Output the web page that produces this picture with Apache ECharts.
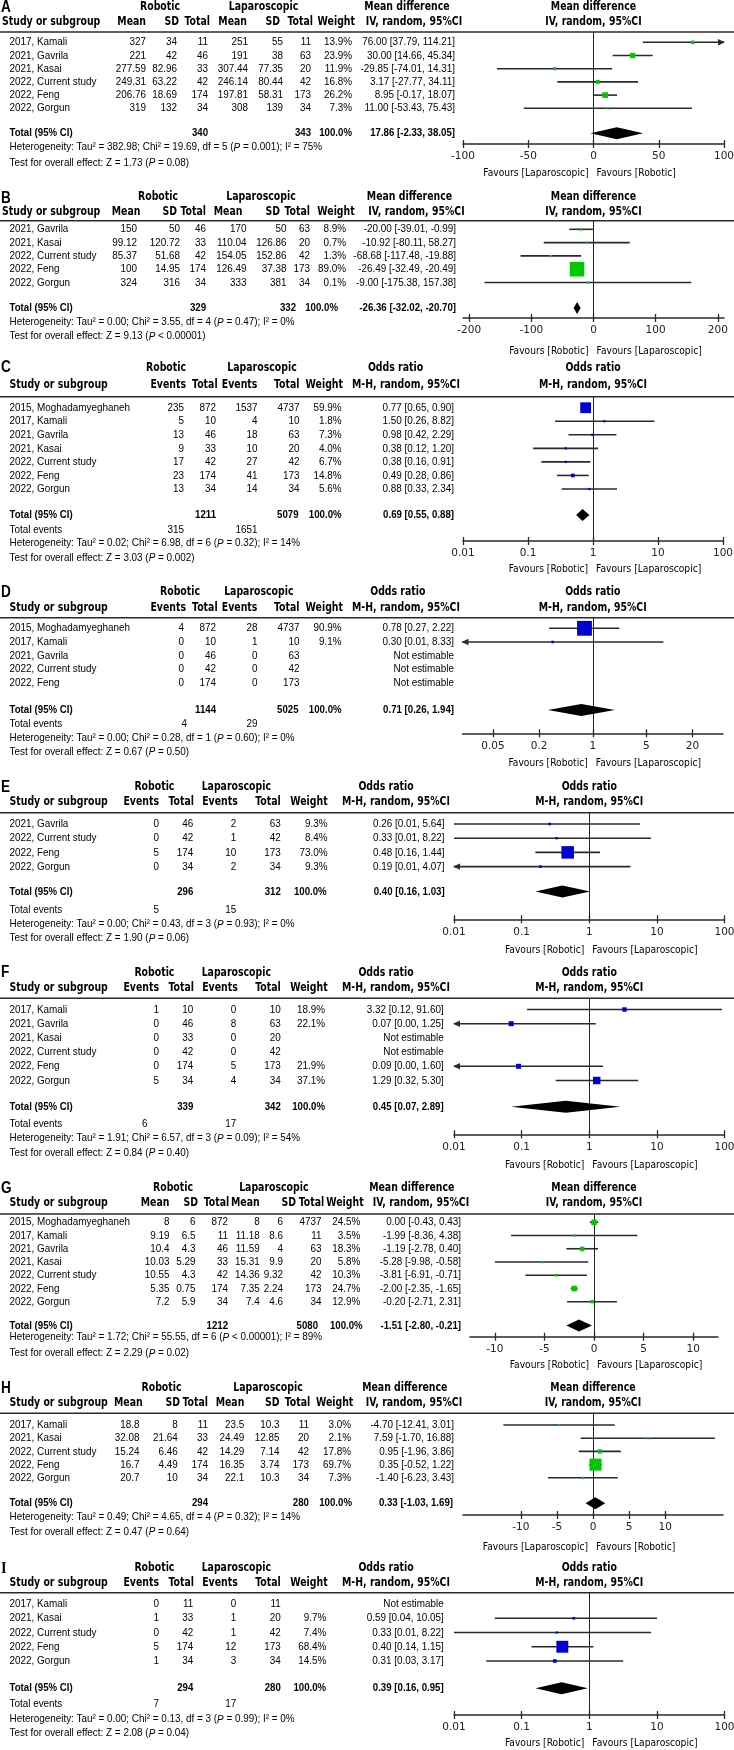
<!DOCTYPE html>
<html><head><meta charset="utf-8">
<script src="https://cdn.jsdelivr.net/npm/echarts@6/dist/echarts.min.js"></script>
<style>html,body{margin:0;padding:0;background:#fff}#c{width:734px;height:1750px}</style>
</head><body><div id="c"></div>
<script>
// ===================== DATA =====================
// Mean-difference rows: [study, robMean, robSD, robN, lapMean, lapSD, lapN, weight%, MD, lo, hi]
const A_rows = [
  ['2017, Kamali', 327, 34, 11, 251, 55, 11, 13.9, 76.00, 37.79, 114.21],
  ['2021, Gavrila', 221, 42, 46, 191, 38, 63, 23.9, 30.00, 14.66, 45.34],
  ['2021, Kasai', 277.59, 82.96, 33, 307.44, 77.35, 20, 11.9, -29.85, -74.01, 14.31],
  ['2022, Current study', 249.31, 63.22, 42, 246.14, 80.44, 42, 16.8, 3.17, -27.77, 34.11],
  ['2022, Feng', 206.76, 18.69, 174, 197.81, 58.31, 173, 26.2, 8.95, -0.17, 18.07],
  ['2022, Gorgun', 319, 132, 34, 308, 139, 34, 7.3, 11.00, -53.43, 75.43]
];
const A_total = [340, 343, 17.86, -2.33, 38.05];
const A_het = 'Tau² = 382.98; Chi² = 19.69, df = 5 (P = 0.001); I² = 75%';
const A_test = 'Z = 1.73 (P = 0.08)';
const A_fav = ['Favours [Laparoscopic]', 'Favours [Robotic]'];
const A_ticks = [-100, -50, 0, 50, 100];
const A_range = [-100, 100];

const B_rows = [
  ['2021, Gavrila', 150, 50, 46, 170, 50, 63, 8.9, -20.00, -39.01, -0.99],
  ['2021, Kasai', 99.12, 120.72, 33, 110.04, 126.86, 20, 0.7, -10.92, -80.11, 58.27],
  ['2022, Current study', 85.37, 51.68, 42, 154.05, 152.86, 42, 1.3, -68.68, -117.48, -19.88],
  ['2022, Feng', 100, 14.95, 174, 126.49, 37.38, 173, 89.0, -26.49, -32.49, -20.49],
  ['2022, Gorgun', 324, 316, 34, 333, 381, 34, 0.1, -9.00, -175.38, 157.38]
];
const B_total = [329, 332, -26.36, -32.02, -20.70];
const B_het = 'Tau² = 0.00; Chi² = 3.55, df = 4 (P = 0.47); I² = 0%';
const B_test = 'Z = 9.13 (P < 0.00001)';
const B_fav = ['Favours [Robotic]', 'Favours [Laparoscopic]'];
const B_ticks = [-200, -100, 0, 100, 200];
const B_range = [-210, 210];

// Odds-ratio rows: [study, robEvents, robN, lapEvents, lapN, weight%, OR, lo, hi]
const C_rows = [
  ['2015, Moghadamyeghaneh', 235, 872, 1537, 4737, 59.9, 0.77, 0.65, 0.90],
  ['2017, Kamali', 5, 10, 4, 10, 1.8, 1.50, 0.26, 8.82],
  ['2021, Gavrila', 13, 46, 18, 63, 7.3, 0.98, 0.42, 2.29],
  ['2021, Kasai', 9, 33, 10, 20, 4.0, 0.38, 0.12, 1.20],
  ['2022, Current study', 17, 42, 27, 42, 6.7, 0.38, 0.16, 0.91],
  ['2022, Feng', 23, 174, 41, 173, 14.8, 0.49, 0.28, 0.86],
  ['2022, Gorgun', 13, 34, 14, 34, 5.6, 0.88, 0.33, 2.34]
];
const C_total = [1211, 5079, 0.69, 0.55, 0.88];
const C_events = [315, 1651];
const C_het = 'Tau² = 0.02; Chi² = 6.98, df = 6 (P = 0.32); I² = 14%';
const C_test = 'Z = 3.03 (P = 0.002)';
const C_fav = ['Favours [Robotic]', 'Favours [Laparoscopic]'];
const C_ticks = [0.01, 0.1, 1, 10, 100];
const C_range = [0.01, 100];

const D_rows = [
  ['2015, Moghadamyeghaneh', 4, 872, 28, 4737, 90.9, 0.78, 0.27, 2.22],
  ['2017, Kamali', 0, 10, 1, 10, 9.1, 0.30, 0.01, 8.33],
  ['2021, Gavrila', 0, 46, 0, 63, null, null, null, null],
  ['2022, Current study', 0, 42, 0, 42, null, null, null, null],
  ['2022, Feng', 0, 174, 0, 173, null, null, null, null]
];
const D_total = [1144, 5025, 0.71, 0.26, 1.94];
const D_events = [4, 29];
const D_het = 'Tau² = 0.00; Chi² = 0.28, df = 1 (P = 0.60); I² = 0%';
const D_test = 'Z = 0.67 (P = 0.50)';
const D_fav = ['Favours [Robotic]', 'Favours [Laparoscopic]'];
const D_ticks = [0.05, 0.2, 1, 5, 20];
const D_range = [0.02, 50];

const E_rows = [
  ['2021, Gavrila', 0, 46, 2, 63, 9.3, 0.26, 0.01, 5.64],
  ['2022, Current study', 0, 42, 1, 42, 8.4, 0.33, 0.01, 8.22],
  ['2022, Feng', 5, 174, 10, 173, 73.0, 0.48, 0.16, 1.44],
  ['2022, Gorgun', 0, 34, 2, 34, 9.3, 0.19, 0.01, 4.07]
];
const E_clippedLow = ['2022, Gorgun'];
const E_total = [296, 312, 0.40, 0.16, 1.03];
const E_events = [5, 15];
const E_het = 'Tau² = 0.00; Chi² = 0.43, df = 3 (P = 0.93); I² = 0%';
const E_test = 'Z = 1.90 (P = 0.06)';
const E_fav = ['Favours [Robotic]', 'Favours [Laparoscopic]'];
const E_ticks = [0.01, 0.1, 1, 10, 100];
const E_range = [0.01, 100];

const F_rows = [
  ['2017, Kamali', 1, 10, 0, 10, 18.9, 3.32, 0.12, 91.60],
  ['2021, Gavrila', 0, 46, 8, 63, 22.1, 0.07, 0.00, 1.25],
  ['2021, Kasai', 0, 33, 0, 20, null, null, null, null],
  ['2022, Current study', 0, 42, 0, 42, null, null, null, null],
  ['2022, Feng', 0, 174, 5, 173, 21.9, 0.09, 0.00, 1.60],
  ['2022, Gorgun', 5, 34, 4, 34, 37.1, 1.29, 0.32, 5.30]
];
const F_total = [339, 342, 0.45, 0.07, 2.89];
const F_events = [6, 17];
const F_het = 'Tau² = 1.91; Chi² = 6.57, df = 3 (P = 0.09); I² = 54%';
const F_test = 'Z = 0.84 (P = 0.40)';
const F_fav = ['Favours [Robotic]', 'Favours [Laparoscopic]'];
const F_ticks = [0.01, 0.1, 1, 10, 100];
const F_range = [0.01, 100];

const G_rows = [
  ['2015, Moghadamyeghaneh', 8, 6, 872, 8, 6, 4737, 24.5, 0.00, -0.43, 0.43],
  ['2017, Kamali', 9.19, 6.5, 11, 11.18, 8.6, 11, 3.5, -1.99, -8.36, 4.38],
  ['2021, Gavrila', 10.4, 4.3, 46, 11.59, 4, 63, 18.3, -1.19, -2.78, 0.40],
  ['2021, Kasai', 10.03, 5.29, 33, 15.31, 9.9, 20, 5.8, -5.28, -9.98, -0.58],
  ['2022, Current study', 10.55, 4.3, 42, 14.36, 9.32, 42, 10.3, -3.81, -6.91, -0.71],
  ['2022, Feng', 5.35, 0.75, 174, 7.35, 2.24, 173, 24.7, -2.00, -2.35, -1.65],
  ['2022, Gorgun', 7.2, 5.9, 34, 7.4, 4.6, 34, 12.9, -0.20, -2.71, 2.31]
];
const G_total = [1212, 5080, -1.51, -2.80, -0.21];
const G_het = 'Tau² = 1.72; Chi² = 55.55, df = 6 (P < 0.00001); I² = 89%';
const G_test = 'Z = 2.29 (P = 0.02)';
const G_fav = ['Favours [Robotic]', 'Favours [Laparoscopic]'];
const G_ticks = [-10, -5, 0, 5, 10];
const G_range = [-12.5, 12.5];

const H_rows = [
  ['2017, Kamali', 18.8, 8, 11, 23.5, 10.3, 11, 3.0, -4.70, -12.41, 3.01],
  ['2021, Kasai', 32.08, 21.64, 33, 24.49, 12.85, 20, 2.1, 7.59, -1.70, 16.88],
  ['2022, Current study', 15.24, 6.46, 42, 14.29, 7.14, 42, 17.8, 0.95, -1.96, 3.86],
  ['2022, Feng', 16.7, 4.49, 174, 16.35, 3.74, 173, 69.7, 0.35, -0.52, 1.22],
  ['2022, Gorgun', 20.7, 10, 34, 22.1, 10.3, 34, 7.3, -1.40, -6.23, 3.43]
];
const H_total = [294, 280, 0.33, -1.03, 1.69];
const H_het = 'Tau² = 0.49; Chi² = 4.65, df = 4 (P = 0.32); I² = 14%';
const H_test = 'Z = 0.47 (P = 0.64)';
const H_fav = ['Favours [Laparoscopic]', 'Favours [Robotic]'];
const H_ticks = [-10, -5, 0, 5, 10];
const H_range = [-18, 18];

const I_rows = [
  ['2017, Kamali', 0, 11, 0, 11, null, null, null, null],
  ['2021, Kasai', 1, 33, 1, 20, 9.7, 0.59, 0.04, 10.05],
  ['2022, Current study', 0, 42, 1, 42, 7.4, 0.33, 0.01, 8.22],
  ['2022, Feng', 5, 174, 12, 173, 68.4, 0.40, 0.14, 1.15],
  ['2022, Gorgun', 1, 34, 3, 34, 14.5, 0.31, 0.03, 3.17]
];
const I_total = [294, 280, 0.39, 0.16, 0.95];
const I_events = [7, 17];
const I_het = 'Tau² = 0.00; Chi² = 0.13, df = 3 (P = 0.99); I² = 0%';
const I_test = 'Z = 2.08 (P = 0.04)';
const I_fav = ['Favours [Robotic]', 'Favours [Laparoscopic]'];
const I_ticks = [0.01, 0.1, 1, 10, 100];
const I_range = [0.01, 100];

// ===================== LAYOUT / STYLE =====================
const GREEN = '#00c800', BLUE = '#0000d0', INK = '#000', LINE = '#2a2a2a';
const F_HEAD = {ff: 'DejaVu Sans', fw: 'bold', fs: 12, sx: 0.78};
const F_BODY = {ff: 'Liberation Sans', fw: 'normal', fs: 11.5, sx: 0.86};
const F_BOLD = {ff: 'Liberation Sans', fw: 'bold', fs: 11.5, sx: 0.84};
const F_FAV  = {ff: 'DejaVu Sans', fw: 'normal', fs: 11, sx: 0.83};
const F_LET  = {ff: 'Liberation Sans', fw: 'bold', fs: 16, sx: 0.85};
const F_LETI = {ff: 'Liberation Serif', fw: 'bold', fs: 16, sx: 0.9};

const PANELS = [
  {key:'A', kind:'MD', log:false, color:GREEN, rows:A_rows, total:A_total, events:null, het:A_het, test:A_test, fav:A_fav, ticks:A_ticks, range:A_range, clip:[],
   L:{r1:7, r2:22, sep:32, row0:42.3, dy:13.2, tot:133.3, het:147.3, test:162.7, ax:144, fav:173, letterY:7.5, headX:2,
      h1:[160,263.5,407], h2:[146,179,210,247,280,313,355], h2ci:414, cols:[146,177,208,248,283,311,352], ci:455, totX:[208,311,352,455], axL:463, axR:724}},
  {key:'B', kind:'MD', log:false, color:GREEN, rows:B_rows, total:B_total, events:null, het:B_het, test:B_test, fav:B_fav, ticks:B_ticks, range:B_range, clip:[],
   L:{r1:196.7, r2:211.7, sep:220.7, row0:229.3, dy:13.3, tot:308, het:322.3, test:336.3, ax:318, fav:350.7, letterY:199, headX:2,
      h1:[158,261,409.5], h2:[140.4,177,206,242.4,280,310,354.7], h2ci:416.5, cols:[137,180,206,246.6,286.4,310,346], ci:456, totX:[206,296,338,456], axL:463, axR:724}},
  {key:'C', kind:'OR', log:true, color:BLUE, rows:C_rows, total:C_total, events:C_events, het:C_het, test:C_test, fav:C_fav, ticks:C_ticks, range:C_range, clip:[],
   L:{r1:368, r2:385, sep:396.7, row0:407.7, dy:13.55, tot:515, ev:530, het:543.3, test:557.7, ax:541, fav:569.3, letterY:368, headX:9.5,
      h1:[166,262,395.5], h2:[186,217.6,257.4,299.5,343], h2ci:406, cols:[184,216,257.4,299.5,341.6], ci:454, totX:[216,298.6,341.6,454], evX:[184,257.4], axL:463, axR:723}},
  {key:'D', kind:'OR', log:true, color:BLUE, rows:D_rows, total:D_total, events:D_events, het:D_het, test:D_test, fav:D_fav, ticks:D_ticks, range:D_range, clip:[],
   L:{r1:592.3, r2:607.7, sep:617.7, row0:628.3, dy:13.65, tot:710, ev:724, het:738.3, test:751.7, ax:733.3, fav:762.7, letterY:592.5, headX:9.5,
      h1:[180,258.8,397.8], h2:[186,217.6,257.4,299.5,343], h2ci:406, cols:[184,216,257.4,299.5,341.6], ci:454, totX:[216,298.6,341.6,454], evX:[187,257.4], axL:462.5, axR:723}},
  {key:'E', kind:'OR', log:true, color:BLUE, rows:E_rows, total:E_total, events:E_events, het:E_het, test:E_test, fav:E_fav, ticks:E_ticks, range:E_range, clip:E_clippedLow,
   L:{r1:786.7, r2:802.3, sep:812.7, row0:824, dy:14.2, tot:891.5, ev:910, het:924.3, test:938.3, ax:919.3, fav:950, letterY:787.5, headX:9.5,
      h1:[154.4,236.3,386], h2:[159,194,237.7,280.8,327.6], h2ci:396, cols:[159,193.3,236.3,280.8,327.6], ci:444.6, totX:[193.3,280.8,326.7,444.6], evX:[159,236.3], axL:454, axR:724.5}},
  {key:'F', kind:'OR', log:true, color:BLUE, rows:F_rows, total:F_total, events:F_events, het:F_het, test:F_test, fav:F_fav, ticks:F_ticks, range:F_range, clip:[],
   L:{r1:973.3, r2:988.3, sep:998.3, row0:1009.5, dy:14.2, tot:1106.7, ev:1124.3, het:1138.3, test:1152.7, ax:1134.3, fav:1165, letterY:972.5, headX:9.5,
      h1:[154.4,236.3,386], h2:[159,194,237.7,280.8,327.6], h2ci:396, cols:[159,193.3,236.3,280.8,325], ci:443.7, totX:[193.3,280.8,325,443.7], evX:[147.4,236.3], axL:454, axR:724.5}},
  {key:'G', kind:'MD', log:false, color:GREEN, rows:G_rows, total:G_total, events:null, het:G_het, test:G_test, fav:G_fav, ticks:G_ticks, range:G_range, clip:[],
   L:{r1:1188.3, r2:1203.3, sep:1214, row0:1222.3, dy:13.23, tot:1325.5, het:1337.3, test:1353.3, ax:1336.7, fav:1365, letterY:1189, headX:9.5,
      h1:[173,273.8,411.8], h2:[169.4,198,229.3,259.7,296,324.3,363.6], h2ci:421, cols:[169.4,195.6,228,259.7,283,321.5,360.4], ci:461, totX:[228,318,362.7,461], axL:470, axR:718}},
  {key:'H', kind:'MD', log:false, color:GREEN, rows:H_rows, total:H_total, events:null, het:H_het, test:H_test, fav:H_fav, ticks:H_ticks, range:H_range, clip:[],
   L:{r1:1388.3, r2:1403.3, sep:1413.3, row0:1425, dy:13.2, tot:1503.3, het:1516.7, test:1531.7, ax:1515, fav:1546.7, letterY:1389, headX:9.5,
      h1:[161.5,268,404.8], h2:[142.7,180,208,244.3,279.4,310.3,353.3], h2ci:414, cols:[139.5,177.8,208,244.3,279.4,308.9,351], ci:454, totX:[208,308.9,352,453], axL:463, axR:723}},
  {key:'I', kind:'OR', log:true, color:BLUE, rows:I_rows, total:I_total, events:I_events, het:I_het, test:I_test, fav:I_fav, ticks:I_ticks, range:I_range, clip:[],
   L:{r1:1568.3, r2:1583.3, sep:1592.7, row0:1604, dy:14.25, tot:1688.3, ev:1704.3, het:1719.3, test:1733.3, ax:1715, fav:1743.3, letterY:1569, headX:9.5,
      h1:[154.4,236.3,386], h2:[159,194,237.7,280.8,327.6], h2ci:396, cols:[159,193.3,236.3,280.8,326.2], ci:443.7, totX:[193.3,280.8,326.2,443.7], evX:[159,236.3], axL:454, axR:724.5}}
];
const NAME_X = 9.5;

// ===================== BUILD =====================
const graphics = [];
function txt(x, y, s, f, align, extra) {
  const el = {type:'text', x:x, y:y, scaleX:f.sx, scaleY:1, silent:true, z:10,
    style:{text:s, x:0, y:0, fontFamily:f.ff, fontWeight:f.fw, fontSize:f.fs, fontStyle:'normal', fill:INK,
      align:align||'left', verticalAlign:'middle', textAlign:align||'left', textVerticalAlign:'middle'}};
  if (extra) el.style.rich = extra;
  graphics.push(el);
}
function italicP(f) {
  return {i:{fontFamily:f.ff, fontSize:f.fs, fontStyle:'italic', fontWeight:'normal', fill:INK}};
}
function withP(s) { return s.replace(/\(P /g, '({i|P} '); }
function refValue(P) { return P.kind === 'MD' ? 0 : 1; }
function refPx(P) {
  const L = P.L, mn = P.range[0], mx = P.range[1];
  const t = P.log ? (0 - Math.log10(mn)) / (Math.log10(mx) - Math.log10(mn)) : (0 - mn) / (mx - mn);
  return L.axL + t * (L.axR - L.axL);
}
function fmt2(v) { return v.toFixed(2); }

function buildText(P) {
  const L = P.L, isMD = P.kind === 'MD', rx = refPx(P);
  txt(1, L.letterY, P.key, P.key === 'I' ? F_LETI : F_LET, 'left');
  const eff = isMD ? 'Mean difference' : 'Odds ratio';
  const meth = isMD ? 'IV, random, 95%CI' : 'M-H, random, 95%CI';
  txt(L.h1[0], L.r1, 'Robotic', F_HEAD, 'center');
  txt(L.h1[1], L.r1, 'Laparoscopic', F_HEAD, 'center');
  txt(L.h1[2], L.r1, eff, F_HEAD, 'center');
  txt(rx, L.r1, eff, F_HEAD, 'center');
  txt(L.headX, L.r2, 'Study or subgroup', F_HEAD, 'left');
  const hdr = isMD ? ['Mean','SD','Total','Mean','SD','Total','Weight'] : ['Events','Total','Events','Total','Weight'];
  hdr.forEach(function (h, j) { txt(L.h2[j], L.r2, h, F_HEAD, 'right'); });
  txt(L.h2ci, L.r2, meth, F_HEAD, 'center');
  txt(rx, L.r2, meth, F_HEAD, 'center');
  graphics.push({type:'line', silent:true, shape:{x1:0, y1:L.sep, x2:734, y2:L.sep}, style:{stroke:LINE, lineWidth:1.5}});

  const nv = isMD ? 6 : 4;
  P.rows.forEach(function (r, i) {
    const y = L.row0 + i * L.dy;
    txt(NAME_X, y, r[0], F_BODY, 'left');
    for (let j = 0; j < nv; j++) txt(L.cols[j], y, String(r[1 + j]), F_BODY, 'right');
    const w = r[1 + nv], est = r[2 + nv], lo = r[3 + nv], hi = r[4 + nv];
    if (w != null) txt(L.cols[nv], y, w.toFixed(1) + '%', F_BODY, 'right');
    txt(L.ci, y, est == null ? 'Not estimable' : fmt2(est) + ' [' + fmt2(lo) + ', ' + fmt2(hi) + ']', F_BODY, 'right');
  });
  const T = P.total;
  txt(NAME_X, L.tot, 'Total (95% CI)', F_BOLD, 'left');
  txt(L.totX[0], L.tot, String(T[0]), F_BOLD, 'right');
  txt(L.totX[1], L.tot, String(T[1]), F_BOLD, 'right');
  txt(L.totX[2], L.tot, '100.0%', F_BOLD, 'right');
  txt(L.totX[3], L.tot, fmt2(T[2]) + ' [' + fmt2(T[3]) + ', ' + fmt2(T[4]) + ']', F_BOLD, 'right');
  if (P.events) {
    txt(NAME_X, L.ev, 'Total events', F_BODY, 'left');
    txt(L.evX[0], L.ev, String(P.events[0]), F_BODY, 'right');
    txt(L.evX[1], L.ev, String(P.events[1]), F_BODY, 'right');
  }
  txt(NAME_X, L.het, withP('Heterogeneity: ' + P.het), F_BODY, 'left', italicP(F_BODY));
  txt(NAME_X, L.test, withP('Test for overall effect: ' + P.test), F_BODY, 'left', italicP(F_BODY));
  txt(rx - 5, L.fav, P.fav[0], F_FAV, 'right');
  txt(rx + 3, L.fav, P.fav[1], F_FAV, 'left');
}

function renderStudy(P) {
  return function (params, api) {
    const est = api.value(0), lo = api.value(1), hi = api.value(2), idx = api.value(3), w = api.value(4);
    const aL = api.value(5), aR = api.value(6);
    const mn = P.range[0], mx = P.range[1];
    const pe = api.coord([est, idx]);
    const y = pe[1];
    const xl = api.coord([Math.max(lo, mn), idx])[0];
    const xh = api.coord([Math.min(hi, mx), idx])[0];
    const s = Math.max(2.2, 0.46 * Math.pow(w, 0.77));
    const ch = [{type:'line', shape:{x1:xl, y1:y, x2:xh, y2:y}, style:{stroke:LINE, lineWidth:1.6}}];
    if (aL) ch.push({type:'polygon', shape:{points:[[xl - 1, y], [xl + 6, y - 3.2], [xl + 6, y + 3.2]]}, style:{fill:LINE}});
    if (aR) ch.push({type:'polygon', shape:{points:[[xh + 1, y], [xh - 6, y - 3.2], [xh - 6, y + 3.2]]}, style:{fill:LINE}});
    ch.push({type:'rect', shape:{x:pe[0] - s / 2, y:y - s / 2, width:s, height:s}, style:{fill:P.color}});
    return {type:'group', children:ch};
  };
}
function renderDiamond(params, api) {
  const est = api.value(0), lo = api.value(1), hi = api.value(2), idx = api.value(3);
  const c = api.coord([est, idx]), l = api.coord([lo, idx]), h = api.coord([hi, idx]);
  return {type:'polygon', shape:{points:[[l[0], c[1]], [c[0], c[1] - 6], [h[0], c[1]], [c[0], c[1] + 6]]}, style:{fill:'#000'}};
}

const grids = [], xAxes = [], yAxes = [], series = [];
PANELS.forEach(function (P, k) {
  const L = P.L, isMD = P.kind === 'MD', nv = isMD ? 6 : 4;
  buildText(P);
  grids.push({left:L.axL, top:L.sep, width:L.axR - L.axL, height:L.ax - L.sep, containLabel:false, outerBoundsMode:'none'});
  const base = {gridIndex:k, type:P.log ? 'log' : 'value', logBase:10, min:P.range[0], max:P.range[1], position:'bottom', splitLine:{show:false}};
  xAxes.push(Object.assign({}, base, {
    axisLine:{show:true, onZero:false, lineStyle:{color:LINE, width:1.5}},
    axisTick:{show:true, inside:false, length:4, customValues:P.ticks, lineStyle:{color:LINE, width:1.3}},
    axisLabel:{show:true, customValues:P.ticks, margin:7, fontFamily:'DejaVu Sans', fontSize:10.5, color:'#222',
      formatter:function (v) { return String(Number(v.toPrecision(6))); }}
  }));
  xAxes.push(Object.assign({}, base, {
    axisLine:{show:false, onZero:false},
    axisTick:{show:true, inside:true, length:4, customValues:P.ticks, lineStyle:{color:LINE, width:1.3}},
    axisLabel:{show:false}
  }));
  yAxes.push({gridIndex:k, type:'value', inverse:true, show:false,
    min:(L.sep - L.row0) / L.dy, max:(L.ax - L.row0) / L.dy, splitLine:{show:false}});
  const studyData = [];
  P.rows.forEach(function (r, i) {
    const est = r[2 + nv];
    if (est == null) return;
    const lo = r[3 + nv], hi = r[4 + nv];
    const aL = (lo < P.range[0] || P.clip.indexOf(r[0]) >= 0) ? 1 : 0;
    const aR = hi > P.range[1] ? 1 : 0;
    studyData.push([est, lo, hi, i, r[1 + nv], aL, aR]);
  });
  series.push({type:'custom', xAxisIndex:2 * k, yAxisIndex:k, clip:false, silent:true, animation:false,
    encode:{x:0, y:3}, renderItem:renderStudy(P), data:studyData, z:5});
  series.push({type:'custom', xAxisIndex:2 * k, yAxisIndex:k, clip:false, silent:true, animation:false,
    encode:{x:0, y:3}, renderItem:renderDiamond,
    data:[[P.total[2], P.total[3], P.total[4], (L.tot - L.row0) / L.dy]], z:5,
    markLine:{silent:true, animation:false, symbol:['none', 'none'], label:{show:false},
      lineStyle:{color:'#222', width:1, type:'solid'}, data:[{xAxis:refValue(P)}]}});
});

const chart = echarts.init(document.getElementById('c'), null, {renderer:'canvas'});
chart.setOption({
  animation:false,
  backgroundColor:'#fff',
  grid:grids, xAxis:xAxes, yAxis:yAxes, series:series,
  graphic:{elements:graphics}
});
</script>
</body></html>
